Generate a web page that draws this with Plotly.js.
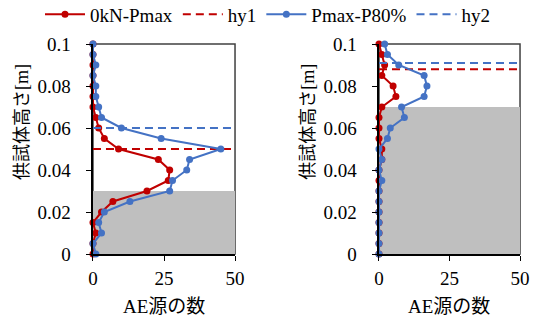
<!DOCTYPE html>
<html><head><meta charset="utf-8">
<script src="https://cdn.plot.ly/plotly-3.0.1.min.js"></script>
<style>body{margin:0;padding:0;background:#fff}#chart{width:535px;height:320px}</style>
</head><body><div id="chart"></div>
<script>
// data
const heights = [0,0.005,0.01,0.015,0.02,0.025,0.03,0.035,0.04,0.045,0.05,0.055,0.06,0.065,0.07,0.075,0.08,0.085,0.09,0.095,0.1];
const leftRed  = [0,0,1,0,3,7,19,26.5,27,23,9,4,2,1,0,0,0,0,0,0,0];
const leftBlue = [1,0,3,2,4,13,27,28,33,34,45,24,10,3,2,1,1,0,1,0,0];
const rightRed  = [0,0,0,0,0,0,0,0,0,1,1,0,0,0,1,6,5,1,2,1,0];
const rightBlue = [0,0,0,0,0,0,0,1,0,1,0,3,4,9,8,16,17,16,7,3,2];
const hy1 = [0.05, 0.088];
const hy2 = [0.06, 0.091];
const shadeTop = [0.03, 0.07];
const xMax = 50;
const seriesNames = ['0kN-Pmax','hy1','Pmax-P80%','hy2'];
const xTitle = 'AE源の数';
const yTitle = '供試体高さ[m]';

const RED = '#C00000', BLUE = '#4472C4';
const FONT = 'Liberation Serif, Noto Sans CJK JP, serif';
const DASH = '8px,5px';

const traces = [];
const panels = [
  {xa:'x', ya:'y', red:leftRed, blue:leftBlue, h1:hy1[0], h2:hy2[0], show:true},
  {xa:'x2', ya:'y2', red:rightRed, blue:rightBlue, h1:hy1[1], h2:hy2[1], show:false}
];
panels.forEach(p => {
  traces.push({x:p.red, y:heights, xaxis:p.xa, yaxis:p.ya, type:'scatter', mode:'lines+markers',
    name:seriesNames[0], legendgroup:'a', showlegend:p.show, cliponaxis:false,
    line:{color:RED, width:2}, marker:{color:RED, size:7}});
  traces.push({x:[0, xMax], y:[p.h1, p.h1], xaxis:p.xa, yaxis:p.ya, type:'scatter', mode:'lines',
    name:seriesNames[1], legendgroup:'b', showlegend:p.show,
    line:{color:RED, width:2, dash:DASH}});
  traces.push({x:p.blue, y:heights, xaxis:p.xa, yaxis:p.ya, type:'scatter', mode:'lines+markers',
    name:seriesNames[2], legendgroup:'c', showlegend:p.show, cliponaxis:false,
    line:{color:BLUE, width:2}, marker:{color:BLUE, size:7}});
  traces.push({x:[0, xMax], y:[p.h2, p.h2], xaxis:p.xa, yaxis:p.ya, type:'scatter', mode:'lines',
    name:seriesNames[3], legendgroup:'d', showlegend:p.show,
    line:{color:BLUE, width:2, dash:DASH}});
});

const xaxisBase = {range:[0, xMax], tickvals:[0,25,50], showgrid:false, zeroline:false,
  showline:true, linecolor:'#000', linewidth:1.5, ticks:'outside', ticklen:5, tickcolor:'#000',
  ticklabelstandoff:2,
  tickfont:{family:FONT, size:19, color:'#000'}, fixedrange:true};
const yaxisBase = {range:[0, 0.1], dtick:0.02, showgrid:false, zeroline:false,
  showline:true, linecolor:'#000', linewidth:1.5, ticks:'outside', ticklen:5, tickcolor:'#000',
  ticklabelstandoff:12,
  tickfont:{family:FONT, size:19, color:'#000'}, fixedrange:true, domain:[0,1]};

const shapes = [];
[['x','y',shadeTop[0]],['x2','y2',shadeTop[1]]].forEach(([xa,ya,top]) => {
  shapes.push({type:'rect', xref:xa, yref:ya, x0:0, x1:xMax, y0:0, y1:top,
    fillcolor:'#BFBFBF', line:{width:0}, layer:'below'});
  shapes.push({type:'rect', xref:xa+' domain', yref:ya+' domain', x0:0, x1:1, y0:0, y1:1,
    fillcolor:'rgba(0,0,0,0)', line:{color:'#404040', width:1.5}, layer:'below'});
});

const tf = {family:FONT, size:19, color:'#000'};
const annotations = [
  {text:xTitle, xref:'paper', yref:'paper', x:0.3065, y:-0.25, xanchor:'center', yanchor:'middle', showarrow:false, font:tf},
  {text:xTitle, xref:'paper', yref:'paper', x:0.84, y:-0.25, xanchor:'center', yanchor:'middle', showarrow:false, font:tf},
  {text:yTitle, xref:'paper', yref:'paper', x:0.04, y:0.63, xanchor:'center', yanchor:'middle', textangle:-90, showarrow:false, font:{family:FONT, size:18, color:'#000'}},
  {text:yTitle, xref:'paper', yref:'paper', x:0.576, y:0.63, xanchor:'center', yanchor:'middle', textangle:-90, showarrow:false, font:{family:FONT, size:18, color:'#000'}}
];

const layout = {
  width:535, height:320, margin:{l:0, r:0, t:44, b:66},
  paper_bgcolor:'#fff', plot_bgcolor:'rgba(0,0,0,0)',
  xaxis:Object.assign({}, xaxisBase, {domain:[0.1738, 0.4393], anchor:'y'}),
  yaxis:Object.assign({}, yaxisBase, {anchor:'x'}),
  xaxis2:Object.assign({}, xaxisBase, {domain:[0.7084, 0.972], anchor:'y2'}),
  yaxis2:Object.assign({}, yaxisBase, {anchor:'x2'}),
  showlegend:true,
  legend:{orientation:'h', x:0.5, xanchor:'center', yref:'container', y:0.955, yanchor:'middle',
    font:tf, itemwidth:40, bgcolor:'rgba(0,0,0,0)'},
  shapes:shapes, annotations:annotations
};

Plotly.newPlot('chart', traces, layout, {staticPlot:true, displayModeBar:false});
</script></body></html>
